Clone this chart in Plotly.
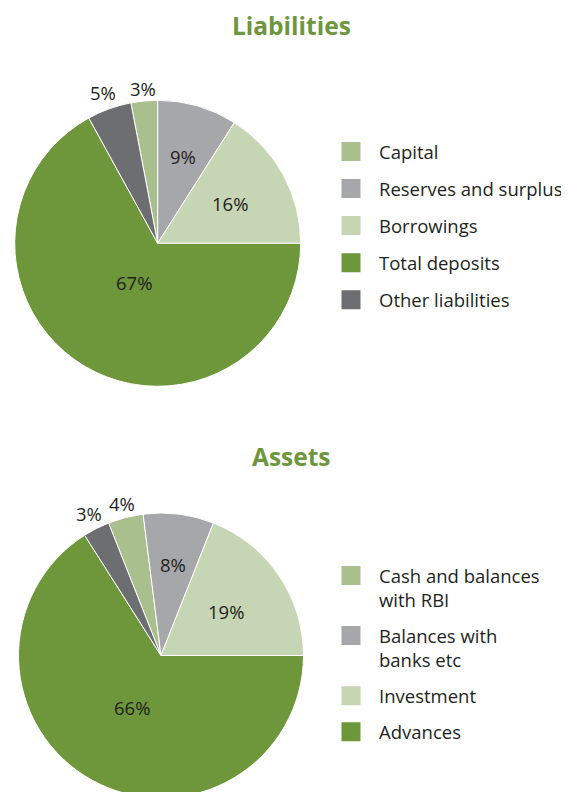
import math
import plotly.graph_objects as go

# ── Data ───────────────────────────────────────────────────────────────────────
liab_labels = ["Capital", "Reserves and surplus", "Borrowings",
               "Total deposits", "Other liabilities"]
liab_values = [3, 9, 16, 67, 5]

asset_labels = ["Cash and balances<br>with RBI", "Balances with<br>banks etc",
                "Investment", "Advances", "Other assets"]
asset_values = [4, 8, 19, 66, 3]
asset_legend = asset_labels[:4]   # "Other assets" is not in the legend

# ── Style ──────────────────────────────────────────────────────────────────────
W, H = 569, 792
_FONT = "Open Sans"
_TEXT = "#231f20"
_GREEN = "#6e963b"
_SAGE = "#a9bf8d"
_GREY = "#a6a7ab"
_PALE = "#c6d5b3"
_DARK = "#6d6e72"
colors = [_SAGE, _GREY, _PALE, _GREEN, _DARK]

# distance of each % label from the centre, as a fraction of the radius
liab_label_r = [1.09, 0.63, 0.58, 0.32, 1.12]
asset_label_r = [1.10, 0.645, 0.55, 0.42, 1.12]

liab_domain = dict(x=[0.01178, 0.5144], y=[0.5223, 0.8835])
asset_domain = dict(x=[0.01845, 0.5193], y=[0.0025, 0.3624])


def pie(labels, values, rotation, domain):
    return go.Pie(
        labels=labels, values=values, sort=False, direction="clockwise",
        rotation=rotation, domain=domain, showlegend=False,
        marker=dict(colors=colors, line=dict(color="white", width=1)),
        textinfo="none", hoverinfo="label+percent",
    )


def pct_labels(values, rotation, domain, fracs):
    """Percent labels placed along each slice's bisector."""
    total = sum(values)
    cx = sum(domain["x"]) / 2
    cy = sum(domain["y"]) / 2
    r = min(W * (domain["x"][1] - domain["x"][0]),
            H * (domain["y"][1] - domain["y"][0])) / 2
    out, cum = [], 0
    for v, f in zip(values, fracs):
        a = math.radians(rotation + 360 * (cum + v / 2) / total)
        cum += v
        out.append(dict(
            text=f"{round(100 * v / total)}%",
            x=cx + f * r * math.sin(a) / W, y=cy + f * r * math.cos(a) / H,
            xref="paper", yref="paper", showarrow=False,
            xanchor="center", yanchor="middle",
            font=dict(family=_FONT, size=18.5, color=_TEXT),
        ))
    return out


fig = go.Figure()
fig.add_trace(pie(liab_labels, liab_values, -10.8, liab_domain))
fig.add_trace(pie(asset_labels, asset_values, -21.6, asset_domain))

# legend-only entries (square swatches)
for i, lab in enumerate(liab_labels):
    fig.add_trace(go.Scatter(
        x=[None], y=[None], mode="markers", name=lab, legend="legend",
        legendgroup=f"l{i}",
        marker=dict(symbol="square", size=16, color=colors[i],
                    line=dict(width=3, color=colors[i])),
    ))
for i, lab in enumerate(asset_legend):
    fig.add_trace(go.Scatter(
        x=[None], y=[None], mode="markers", name=lab, legend="legend2",
        legendgroup=f"a{i}",
        marker=dict(symbol="square", size=16, color=colors[i],
                    line=dict(width=3, color=colors[i])),
    ))

legend_style = dict(
    font=dict(family=_FONT, size=18.5, color=_TEXT),
    bgcolor="rgba(0,0,0,0)", borderwidth=0, itemwidth=46,
    valign="top", xanchor="left", yanchor="top",
)

titles = [
    dict(text="<b>Liabilities</b>", x=0.4974, y=0.9773, xref="paper",
         yref="paper", showarrow=False, yanchor="middle",
         font=dict(family=_FONT, size=24.5, color=_GREEN)),
    dict(text="<b>Assets</b>", x=0.4974, y=0.4343, xref="paper",
         yref="paper", showarrow=False, yanchor="middle",
         font=dict(family=_FONT, size=24.5, color=_GREEN)),
]

fig.update_layout(
    width=W, height=H,
    margin=dict(l=0, r=0, t=0, b=0),
    paper_bgcolor="white", plot_bgcolor="white",
    font=dict(family=_FONT, color=_TEXT),
    xaxis=dict(visible=False), yaxis=dict(visible=False),
    legend=dict(x=0.5536, y=0.8422, tracegroupgap=10, **legend_style),
    legend2=dict(x=0.5536, y=0.3069, tracegroupgap=9, **legend_style),
    annotations=titles
    + pct_labels(liab_values, -10.8, liab_domain, liab_label_r)
    + pct_labels(asset_values, -21.6, asset_domain, asset_label_r),
)

fig.write_html("out.html")
